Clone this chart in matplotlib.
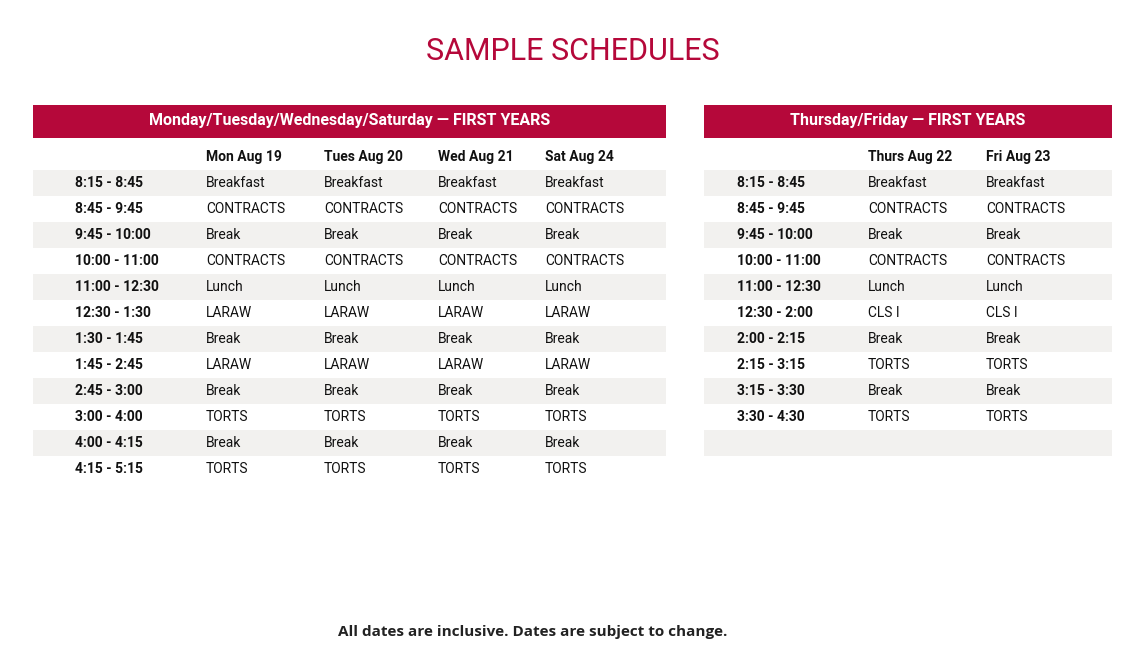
import matplotlib
matplotlib.use("Agg")
import matplotlib.pyplot as plt
from matplotlib.patches import Rectangle

title = "SAMPLE SCHEDULES"
footnote = "All dates are inclusive. Dates are subject to change."

left_header = "Monday/Tuesday/Wednesday/Saturday — FIRST YEARS"
left_days = ["Mon Aug 19", "Tues Aug 20", "Wed Aug 21", "Sat Aug 24"]
left_times = ["8:15 - 8:45", "8:45 - 9:45", "9:45 - 10:00", "10:00 - 11:00", "11:00 - 12:30",
              "12:30 - 1:30", "1:30 - 1:45", "1:45 - 2:45", "2:45 - 3:00", "3:00 - 4:00",
              "4:00 - 4:15", "4:15 - 5:15"]
left_events = ["Breakfast", "CONTRACTS", "Break", "CONTRACTS", "Lunch", "LARAW", "Break",
               "LARAW", "Break", "TORTS", "Break", "TORTS"]

right_header = "Thursday/Friday — FIRST YEARS"
right_days = ["Thurs Aug 22", "Fri Aug 23"]
right_times = ["8:15 - 8:45", "8:45 - 9:45", "9:45 - 10:00", "10:00 - 11:00", "11:00 - 12:30",
               "12:30 - 2:00", "2:00 - 2:15", "2:15 - 3:15", "3:15 - 3:30", "3:30 - 4:30", ""]
right_events = ["Breakfast", "CONTRACTS", "Break", "CONTRACTS", "Lunch", "CLS I", "Break",
                "TORTS", "Break", "TORTS", ""]

RED = "#B5083A"
GRAY = "#F2F1EF"
FONT = "Roboto"

fig = plt.figure(figsize=(11.48, 6.65), dpi=100)
ax = fig.add_axes([0, 0, 1, 1])
ax.set_xlim(0, 1148)
ax.set_ylim(665, 0)
ax.axis("off")

ax.text(573, 52, title, color=RED, fontsize=22, ha="center", va="center", family=FONT)

def table(x0, x1, header, days, times, events, tx, dxs):
    ax.add_patch(Rectangle((x0, 105), x1 - x0, 33, color=RED, lw=0))
    ax.text((x0 + x1) / 2, 121, header, color="white", fontsize=11.5, fontweight="bold",
            ha="center", va="center", family=FONT)
    for d, dx in zip(days, dxs):
        ax.text(dx, 157, d, fontsize=10, fontweight="bold", va="center", family=FONT, color="#111")
    for i, (t, e) in enumerate(zip(times, events)):
        y = 183 + 26 * i
        if i % 2 == 0:
            ax.add_patch(Rectangle((x0, y - 13), x1 - x0, 26, color=GRAY, lw=0))
        ax.text(tx, y, t, fontsize=10, fontweight="bold", va="center", family=FONT, color="#111")
        for dx in dxs:
            ax.text(dx, y, e, fontsize=10, va="center", family=FONT, color="#111")

table(33, 666, left_header, left_days, left_times, left_events, 75, [206, 324, 438, 545])
table(704, 1112, right_header, right_days, right_times, right_events, 737, [868, 986])

ax.text(533, 632, footnote, fontsize=11, fontweight="bold", ha="center", va="center",
        family="Open Sans", color="#222")

fig.savefig("out.png", dpi=100)
